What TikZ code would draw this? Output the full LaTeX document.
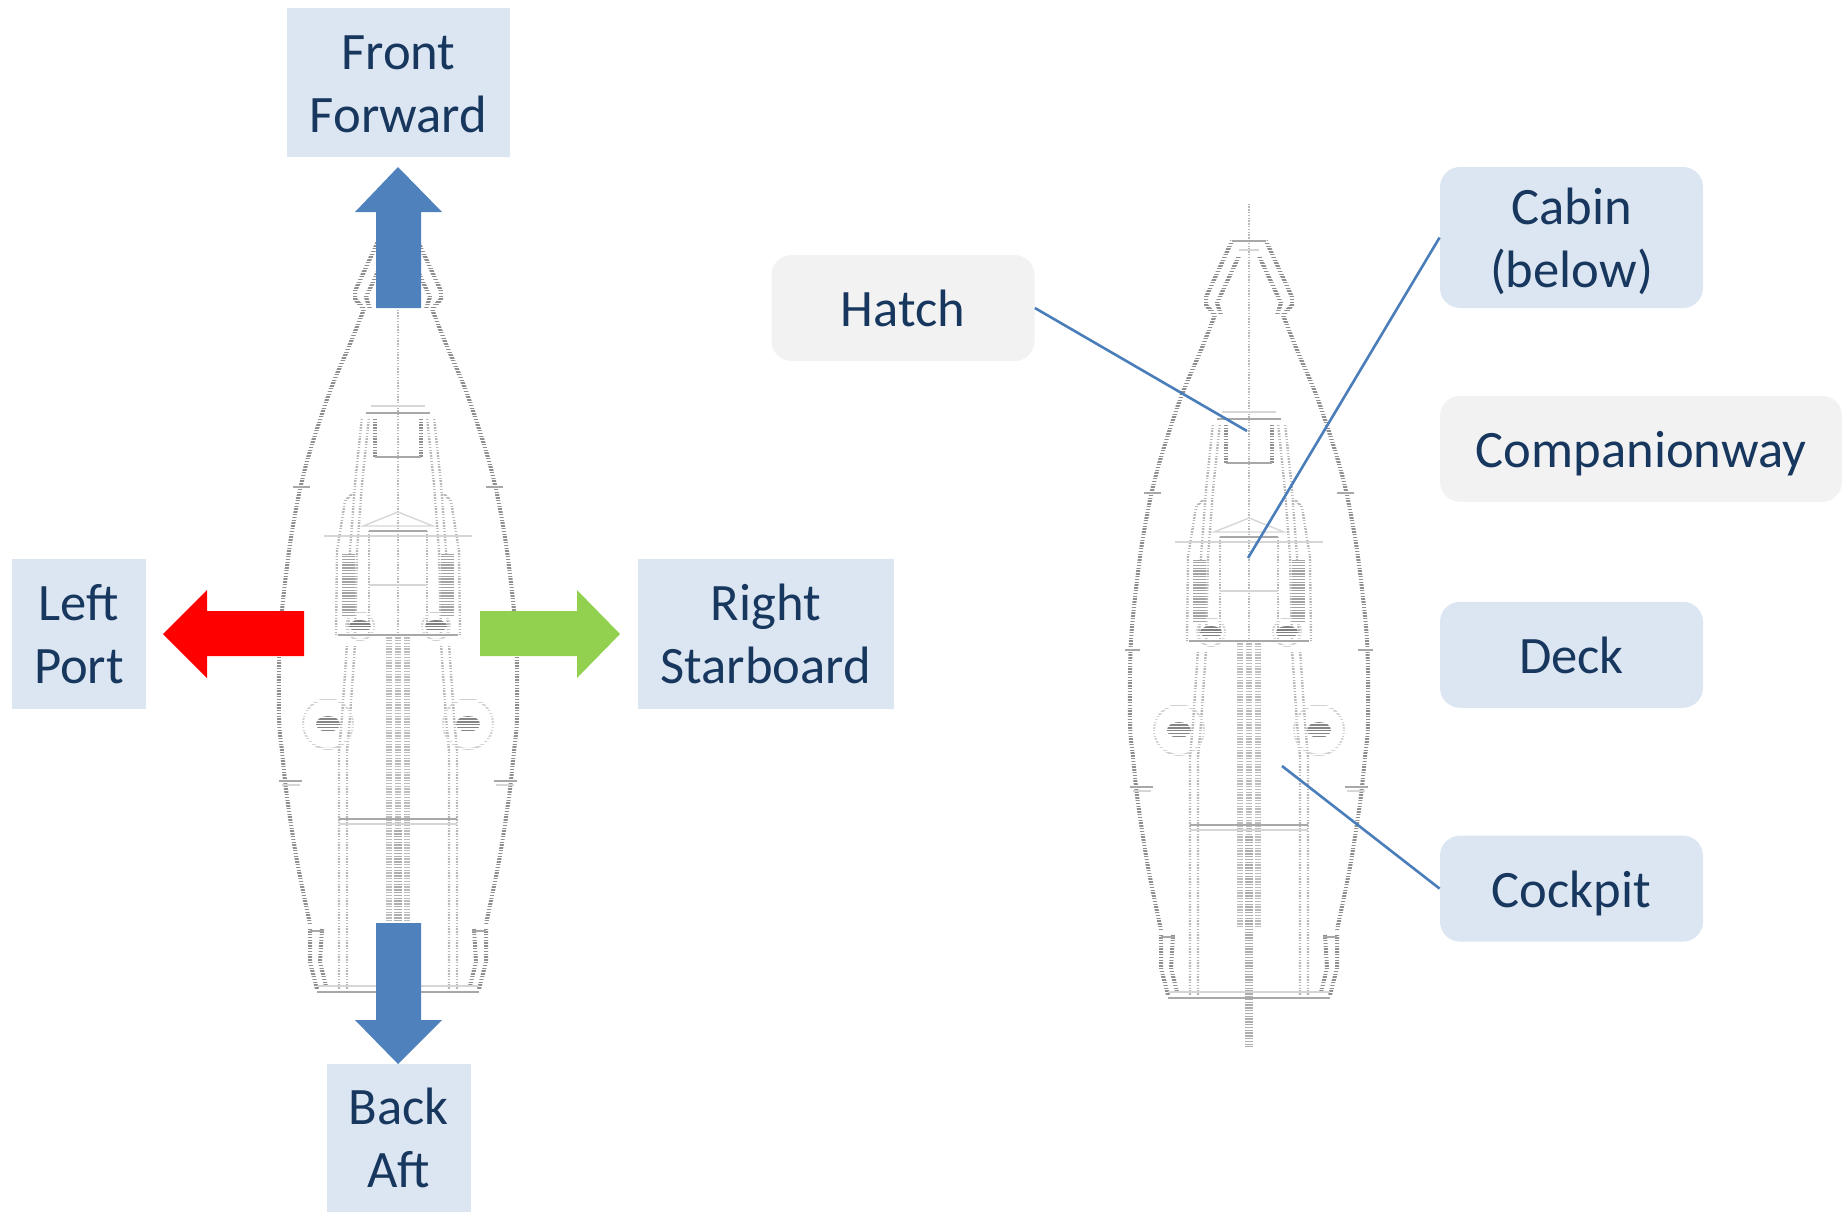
\documentclass[tikz,border=0pt]{standalone}
\usepackage{fontspec}
\setmainfont{Carlito}
\usetikzlibrary{positioning}
\definecolor{boxblue}{HTML}{DCE6F2}
\definecolor{boxgray}{HTML}{F2F2F2}
\definecolor{textblue}{HTML}{17375E}
\definecolor{arrowblue}{HTML}{4F81BD}
\definecolor{arrowgreen}{HTML}{92D050}
\definecolor{leaderblue}{HTML}{4A7EBB}
\tikzset{
  tag/.style={fill=boxblue, text=textblue, align=center, inner sep=0pt,
    text height=56pt, text depth=6pt, font=\fontsize{26.3}{31.5}\selectfont},
  roundtag/.style={tag, rounded corners=10pt, minimum width=131.5pt, minimum height=53pt,
    text height=24.5pt},
  graytag/.style={roundtag, fill=boxgray},
  leader/.style={draw=leaderblue, line width=1.3pt},
  boatline/.style={draw=black!44, line width=2pt},
  boatfaint/.style={draw=black!28, line width=1.2pt},
  boatflat/.style={draw=black!34, line width=.7pt},
  boatflatfaint/.style={draw=black!16, line width=.7pt},
  pics/boat/.style={code={
    \foreach \s in {-1,1} {
      \begin{scope}[xscale=\s]
        % pulpit
        \draw[boatline] (17,241) -- (43,297) -- (43,305) -- (34,315);
        \draw[boatline] (10,256) -- (32,303) -- (28,315);
        % hull
        \draw[boatline] plot[smooth] coordinates {(34,315) (48,350) (68,397) (88,457) (99,500)
          (109,557) (118,640) (119,723) (116,757) (111,803) (101,867) (88,930)};
        \draw[boatline] (88,935) -- (88,968) -- (81,995);
        \draw[boatline] (76,935) -- (78,968) -- (72,992);
        % trunk
        \draw[boatfaint] (29,423) -- (36,490) -- (41,557) -- (43,641);
        \draw[boatfaint] (36,423) -- (43,490) -- (48,557) -- (50,641);
        \draw[boatfaint] (46,500) -- (53,507) -- (61,557) -- (62,641);
        \draw[boatfaint] (43,650) -- (48,723) -- (51,757) -- (51,995);
        \draw[boatfaint] (51,650) -- (56,723) -- (59,757) -- (59,995);
        \draw[boatline] (23,423) -- (23,463);
        \draw[boatfaint] (29,537) -- (29,641);
        % tubes
        \fill[black!26] (6,641) rectangle (12,927);
        \fill[black!26] (-3,641) rectangle (-1,835);
        % winches
        \draw[black!18, line width=1pt] (70,730) circle[radius=25];
        \fill[black!48] (70,730) ellipse[x radius=12, y radius=8];
        \draw[black!18, line width=1pt] (38,632) circle[radius=14];
        \fill[black!50] (38,632) ellipse[x radius=11, y radius=6];
        \fill[black!36] (43,560) rectangle (56,622);
      \end{scope}
    }
    \draw[boatfaint] (0,202) -- (0,1047);
    \fill[black!32] (-4,835) rectangle (4,1047);
    % horizontal stripes over everything so far
    \foreach \y in {200,202.8,...,1050}
      \draw[white, line width=.7pt] (-130,\y) -- (130,\y);
    % the flat lines stay solid
    \foreach \s in {-1,1} {
      \begin{scope}[xscale=\s]
        \draw[boatflat] (88,493) -- (105,493);
        \draw[boatflat] (109,650) -- (124,650);
        \draw[boatflat] (96,787) -- (119,787);
        \draw[boatflatfaint] (98,791) -- (116,791);
        \draw[boatflat] (74,937) -- (88,937);
      \end{scope}
    }
    \draw[boatflat] (-17,241) -- (17,241);
    \draw[boatflatfaint] (-10,250) -- (10,250);
    \draw[boatflatfaint] (-27,412) -- (27,412);
    \draw[boatflat] (-32,419) -- (32,419);
    \draw[boatflat] (-23,463) -- (23,463);
    \draw[boatflatfaint] (-35,532) -- (0,518) -- (35,532) -- cycle;
    \draw[boatflat] (-29,537) -- (29,537);
    \draw[boatflatfaint] (-74,542) -- (74,542);
    \draw[boatflatfaint] (-29,591) -- (29,591);
    \draw[boatflat] (-60,641) -- (60,641);
    \draw[boatflat] (-59,825) -- (59,825);
    \draw[boatflatfaint] (-59,830) -- (59,830);
    \draw[boatflatfaint] (-81,992) -- (81,992);
    \draw[boatflat] (-81,998) -- (81,998);
  }}
}
\begin{document}
\begin{tikzpicture}[x=.5pt, y=-.5pt]
  \useasboundingbox (0,0) rectangle (1842,1212);
  \pic at (398,-6) {boat};
  \pic at (1249,0) {boat};
  % direction arrows
  \fill[arrowblue] (376,308) -- (376,212) -- (355,212) -- (398,167) -- (442,212) -- (421,212) -- (421,308) -- cycle;
  \fill[arrowblue] (376,923) -- (376,1020) -- (355,1020) -- (398,1064) -- (442,1020) -- (421,1020) -- (421,923) -- cycle;
  \fill[red] (304,611) -- (207,611) -- (207,590) -- (163,634) -- (207,678) -- (207,656) -- (304,656) -- cycle;
  \fill[arrowgreen] (480,611) -- (577,611) -- (577,590) -- (620,634) -- (577,678) -- (577,656) -- (480,656) -- cycle;
  % left labels
  \node[tag, minimum width=111.5pt, minimum height=74.5pt] (front) at (398.5,82.5) {Front\\Forward};
  \node[tag, minimum width=72pt, minimum height=74pt] (back)[below=453pt of front] {Back\\Aft};
  \node[tag, minimum width=67pt, minimum height=75pt, text height=55.2pt] (left) at (79,634) {Left\\Port};
  \node[tag, minimum width=128pt, minimum height=75pt, text height=55.2pt] (right)[right=245.5pt of left] {Right\\Starboard};
  % right labels
  \node[roundtag, minimum height=70.5pt, text height=56pt] (cabin) at (1571.5,237.5) {Cabin\\(below)};
  \node[graytag] (hatch) at (903,308) {Hatch};
  \node[graytag, minimum width=201pt, anchor=north west] (companionway)[below right=43.5pt and 0pt of cabin.south west] {Companionway};
  \node[roundtag] (deck)[below=146.5pt of cabin] {Deck};
  \node[roundtag] (cockpit)[below=63.5pt of deck] {Cockpit};
  \coordinate (hatchend) at (1247,431);
  \coordinate (cabinend) at (1248,558);
  \coordinate (cockpitend) at (1282,766);
  \draw[leader] (hatch.east) -- (hatchend);
  \draw[leader] (cabin.west) -- (cabinend);
  \draw[leader] (cockpit.west) -- (cockpitend);
\end{tikzpicture}
\end{document}
